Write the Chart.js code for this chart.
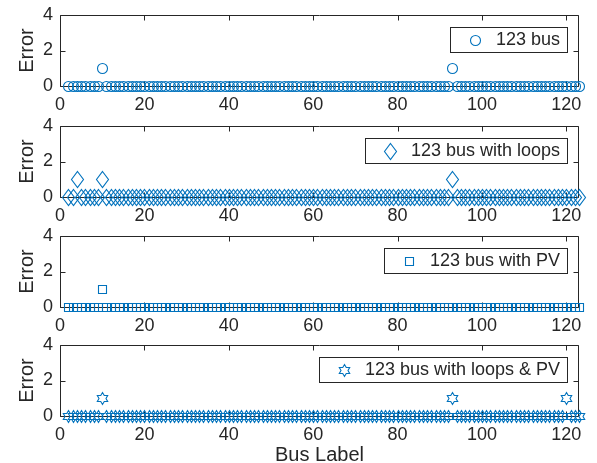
<!DOCTYPE html>
<html>
<head>
<meta charset="utf-8">
<script src="https://cdn.jsdelivr.net/npm/chart.js@4/dist/chart.umd.min.js"></script>
<style>
  html, body { margin: 0; padding: 0; background: #fff; overflow: hidden; }
  #wrap { position: relative; width: 597px; height: 463px; overflow: hidden; }
  #wrap div { position: absolute; left: 0; width: 597px; }
  #wrap canvas { display: block; }
</style>
</head>
<body>
<div id="wrap">
  <div id="p1"></div>
  <div id="p2"></div>
  <div id="p3"></div>
  <div id="p4"></div>
</div>
<script>
// bus labels 2..123
const busLabels = [
  2, 3, 4, 5, 6, 7, 8, 9, 10, 11,
  12, 13, 14, 15, 16, 17, 18, 19, 20, 21,
  22, 23, 24, 25, 26, 27, 28, 29, 30, 31,
  32, 33, 34, 35, 36, 37, 38, 39, 40, 41,
  42, 43, 44, 45, 46, 47, 48, 49, 50, 51,
  52, 53, 54, 55, 56, 57, 58, 59, 60, 61,
  62, 63, 64, 65, 66, 67, 68, 69, 70, 71,
  72, 73, 74, 75, 76, 77, 78, 79, 80, 81,
  82, 83, 84, 85, 86, 87, 88, 89, 90, 91,
  92, 93, 94, 95, 96, 97, 98, 99, 100, 101,
  102, 103, 104, 105, 106, 107, 108, 109, 110, 111,
  112, 113, 114, 115, 116, 117, 118, 119, 120, 121,
  122, 123
];

const errBus = [
  0, 0, 0, 0, 0, 0, 0, 0, 1, 0,
  0, 0, 0, 0, 0, 0, 0, 0, 0, 0,
  0, 0, 0, 0, 0, 0, 0, 0, 0, 0,
  0, 0, 0, 0, 0, 0, 0, 0, 0, 0,
  0, 0, 0, 0, 0, 0, 0, 0, 0, 0,
  0, 0, 0, 0, 0, 0, 0, 0, 0, 0,
  0, 0, 0, 0, 0, 0, 0, 0, 0, 0,
  0, 0, 0, 0, 0, 0, 0, 0, 0, 0,
  0, 0, 0, 0, 0, 0, 0, 0, 0, 0,
  0, 1, 0, 0, 0, 0, 0, 0, 0, 0,
  0, 0, 0, 0, 0, 0, 0, 0, 0, 0,
  0, 0, 0, 0, 0, 0, 0, 0, 0, 0,
  0, 0
];

const errLoops = [
  0, 0, 1, 0, 0, 0, 0, 0, 1, 0,
  0, 0, 0, 0, 0, 0, 0, 0, 0, 0,
  0, 0, 0, 0, 0, 0, 0, 0, 0, 0,
  0, 0, 0, 0, 0, 0, 0, 0, 0, 0,
  0, 0, 0, 0, 0, 0, 0, 0, 0, 0,
  0, 0, 0, 0, 0, 0, 0, 0, 0, 0,
  0, 0, 0, 0, 0, 0, 0, 0, 0, 0,
  0, 0, 0, 0, 0, 0, 0, 0, 0, 0,
  0, 0, 0, 0, 0, 0, 0, 0, 0, 0,
  0, 1, 0, 0, 0, 0, 0, 0, 0, 0,
  0, 0, 0, 0, 0, 0, 0, 0, 0, 0,
  0, 0, 0, 0, 0, 0, 0, 0, 0, 0,
  0, 0
];

const errPV = [
  0, 0, 0, 0, 0, 0, 0, 0, 1, 0,
  0, 0, 0, 0, 0, 0, 0, 0, 0, 0,
  0, 0, 0, 0, 0, 0, 0, 0, 0, 0,
  0, 0, 0, 0, 0, 0, 0, 0, 0, 0,
  0, 0, 0, 0, 0, 0, 0, 0, 0, 0,
  0, 0, 0, 0, 0, 0, 0, 0, 0, 0,
  0, 0, 0, 0, 0, 0, 0, 0, 0, 0,
  0, 0, 0, 0, 0, 0, 0, 0, 0, 0,
  0, 0, 0, 0, 0, 0, 0, 0, 0, 0,
  0, 0, 0, 0, 0, 0, 0, 0, 0, 0,
  0, 0, 0, 0, 0, 0, 0, 0, 0, 0,
  0, 0, 0, 0, 0, 0, 0, 0, 0, 0,
  0, 0
];

const errLoopsPV = [
  0, 0, 0, 0, 0, 0, 0, 0, 1, 0,
  0, 0, 0, 0, 0, 0, 0, 0, 0, 0,
  0, 0, 0, 0, 0, 0, 0, 0, 0, 0,
  0, 0, 0, 0, 0, 0, 0, 0, 0, 0,
  0, 0, 0, 0, 0, 0, 0, 0, 0, 0,
  0, 0, 0, 0, 0, 0, 0, 0, 0, 0,
  0, 0, 0, 0, 0, 0, 0, 0, 0, 0,
  0, 0, 0, 0, 0, 0, 0, 0, 0, 0,
  0, 0, 0, 0, 0, 0, 0, 0, 0, 0,
  0, 1, 0, 0, 0, 0, 0, 0, 0, 0,
  0, 0, 0, 0, 0, 0, 0, 0, 0, 0,
  0, 0, 0, 0, 0, 0, 0, 0, 1, 0,
  0, 0
];

const seriesLabels = ['123 bus', '123 bus with loops', '123 bus with PV', '123 bus with loops & PV'];
const xTicks = [0, 20, 40, 60, 80, 100, 120];
const yTicks = [0, 2, 4];

const blue = '#0072BD';
const ink = '#262626';
const fontFamily = '"Liberation Sans", Arial, Helvetica, sans-serif';

Chart.defaults.font.family = fontFamily;
Chart.defaults.color = ink;

//MATLAB-like open markers, drawn as vector paths
function drawMarker(ctx, kind, x, y) {
  const cx = Math.round(x) + 0.5, cy = Math.round(y) + 0.5;
  ctx.beginPath();
  if (kind === 'circle') {
    ctx.arc(cx, cy, 5, 0, Math.PI * 2);
  } else if (kind === 'diamond') {
    ctx.moveTo(cx, cy - 8); ctx.lineTo(cx + 6, cy); ctx.lineTo(cx, cy + 8); ctx.lineTo(cx - 6, cy);
    ctx.closePath();
  } else if (kind === 'square') {
    ctx.rect(cx - 4, cy - 4, 8, 8);
  } else {
    for (let i = 0; i < 12; i++) {
      const r = i % 2 === 0 ? 6 : 3.5;
      const a = -Math.PI / 2 + i * Math.PI / 6;
      const px = cx + r * Math.cos(a), py = cy + r * Math.sin(a);
      if (i === 0) ctx.moveTo(px, py); else ctx.lineTo(px, py);
    }
    ctx.closePath();
  }
  ctx.stroke();
}

const markerPlugin = {
  id: 'openMarkers',
  afterDatasetsDraw(chart) {
    const {ctx} = chart;
    ctx.save();
    ctx.strokeStyle = blue;
    ctx.lineWidth = 1.1;
    chart.data.datasets.forEach((ds, i) => {
      chart.getDatasetMeta(i).data.forEach(el => drawMarker(ctx, ds.markerKind, el.x, el.y));
    });
    ctx.restore();
  }
};

//axes box with inward ticks on all four sides
const boxPlugin = {
  id: 'matlabBox',
  beforeDatasetsDraw(chart) {
    const {ctx, chartArea: a, scales} = chart;
    const L = Math.round(a.left) + 0.5, R = Math.round(a.right) - 0.5;
    const T = Math.round(a.top) + 0.5, B = Math.round(a.bottom) + 0.5;
    ctx.save();
    ctx.strokeStyle = ink;
    ctx.lineWidth = 1;
    ctx.beginPath();
    ctx.rect(L, T, R - L, B - T);
    for (let i = 0; i < scales.x.ticks.length; i++) {
      const px = Math.round(scales.x.getPixelForValue(scales.x.ticks[i].value)) + 0.5;
      ctx.moveTo(px, B); ctx.lineTo(px, B - 5);
      ctx.moveTo(px, T); ctx.lineTo(px, T + 5);
    }
    for (let i = 0; i < scales.y.ticks.length; i++) {
      const py = Math.round(scales.y.getPixelForValue(scales.y.ticks[i].value)) + 0.5;
      ctx.moveTo(L, py); ctx.lineTo(L + 5, py);
      ctx.moveTo(R, py); ctx.lineTo(R - 5, py);
    }
    ctx.stroke();
    ctx.restore();
  }
};

//boxed legend inside the upper right corner
const legendPlugin = {
  id: 'boxLegend',
  afterDraw(chart) {
    const ds = chart.data.datasets[0];
    const {ctx, chartArea: a} = chart;
    ctx.save();
    ctx.font = '18px ' + fontFamily;
    const tw = ctx.measureText(ds.label).width;
    const w = Math.round(46 + tw + 7), h = 25;
    const r = Math.round(a.right) - 12, t = Math.round(a.top) + 12;
    const l = r - w;
    ctx.fillStyle = '#fff';
    ctx.fillRect(l, t, w, h);
    ctx.strokeStyle = ink;
    ctx.lineWidth = 1;
    ctx.strokeRect(l + 0.5, t + 0.5, w, h);
    ctx.strokeStyle = blue;
    ctx.lineWidth = 1.1;
    drawMarker(ctx, ds.markerKind, l + 25, t + h / 2);
    ctx.fillStyle = ink;
    ctx.textBaseline = 'middle';
    ctx.fillText(ds.label, l + 46, t + h / 2 + 1);
    ctx.restore();
  }
};

class errorPanel {
  constructor(inDOM, inTop, inHeight, inLabel, inErrors, inMarker, inShowXTitle) {
    this.parent = inDOM;
    this.parent.style.top = inTop + 'px';
    this.parent.style.height = inHeight + 'px';
    this.canvas = document.createElement('canvas');
    this.canvas.width = 597;
    this.canvas.height = inHeight;
    this.parent.appendChild(this.canvas);

    const points = [];
    for (let i = 0; i < busLabels.length; i++) {
      points.push({x: busLabels[i], y: inErrors[i]});
    }
    const plotHeight = 71;
    const xHeight = inHeight - 15 - plotHeight;

    this.config = {
      type: 'scatter',
      data: {
        datasets: [{
          label: inLabel,
          data: points,
          markerKind: inMarker,
          pointRadius: 0,
          borderColor: blue,
          backgroundColor: 'transparent',
          clip: false,
        }]
      },
      options: {
        responsive: false,
        animation: false,
        events: [],
        layout: { padding: { top: 15, right: 18, left: 0, bottom: 0 } },
        plugins: { legend: { display: false }, tooltip: { enabled: false } },
        scales: {
          x: {
            type: 'linear',
            min: 0,
            max: 123,
            afterBuildTicks: s => { s.ticks = xTicks.map(v => ({value: v})); },
            afterFit: s => { s.height = xHeight; s.paddingLeft = 0; s.paddingRight = 0; },
            grid: { display: false, drawTicks: false },
            border: { display: false },
            ticks: { font: { size: 18 }, color: ink, padding: 8, maxRotation: 0, autoSkip: false },
            title: {
              display: inShowXTitle,
              text: 'Bus Label',
              color: ink,
              font: { size: 20 },
              padding: { top: 0, bottom: 0 }
            }
          },
          y: {
            min: 0,
            max: 4,
            afterBuildTicks: s => { s.ticks = yTicks.map(v => ({value: v})); },
            afterFit: s => { s.width = 60; s.paddingTop = 0; s.paddingBottom = 0; },
            grid: { display: false, drawTicks: false },
            border: { display: false },
            ticks: { font: { size: 18 }, color: ink, padding: 7 },
            title: {
              display: true,
              text: 'Error',
              color: ink,
              font: { size: 20 },
              padding: { top: 15, bottom: 0 }
            }
          }
        }
      },
      plugins: [boxPlugin, markerPlugin, legendPlugin]
    };
    this.chart = new Chart(this.canvas, this.config);
  }
}

new errorPanel(document.getElementById('p1'), 0, 110, seriesLabels[0], errBus, 'circle', false);
new errorPanel(document.getElementById('p2'), 111, 110, seriesLabels[1], errLoops, 'diamond', false);
new errorPanel(document.getElementById('p3'), 221, 110, seriesLabels[2], errPV, 'square', false);
new errorPanel(document.getElementById('p4'), 330, 137, seriesLabels[3], errLoopsPV, 'hexagram', true);
</script>
</body>
</html>
